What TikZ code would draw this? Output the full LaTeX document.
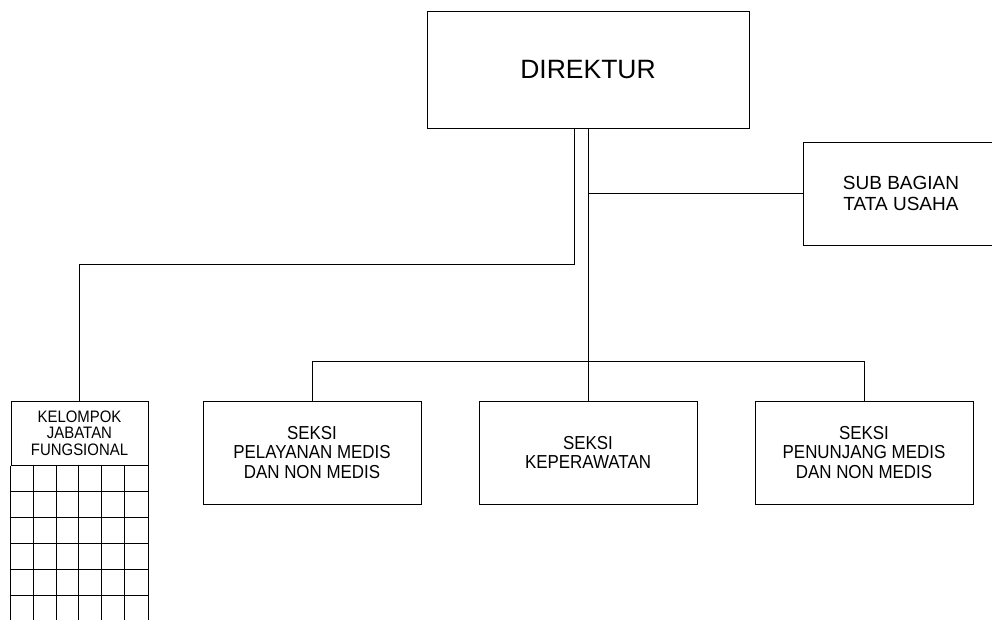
\documentclass[tikz,border=0pt]{standalone}
\usepackage{fontspec}
\setmainfont{Liberation Sans}
\newfontfamily\narrowfont{Liberation Sans}[FakeStretch=0.9]
\usepackage{tikz}
\usetikzlibrary{positioning}
\tikzset{%
  block/.style    = {draw, rectangle, inner sep=0pt, align=center},
  topbox/.style   = {block, minimum width=322pt, minimum height=117pt,
    font=\fontsize{26.5}{30}\selectfont},
  subbox/.style   = {block, minimum width=196pt, minimum height=103pt,
    font=\fontsize{19}{21.7}\selectfont},
  seksi/.style    = {block, minimum width=218pt, minimum height=103pt,
    font=\narrowfont\fontsize{18.8}{19.5}\selectfont},
  fungsi/.style   = {block, minimum width=137pt, minimum height=64pt,
    font=\narrowfont\fontsize{16.6}{16.7}\selectfont}
}

\begin{document}
\begin{tikzpicture}[x=1pt, y=-1pt, line width=1pt]

  \useasboundingbox (0,0) rectangle (992,619);
  \clip (0,0) rectangle (992,619);

  \draw node at (588,69.5) [topbox] (dir) {DIREKTUR};
  \draw node at (901,193.5) [subbox] (tu) {SUB BAGIAN\\TATA USAHA};
  \draw node at (79.5,433) [fungsi] (kjf) {KELOMPOK\\JABATAN\\FUNGSIONAL};
  \draw node at (588,452.5) [seksi] (kep) {SEKSI\\KEPERAWATAN};
  \draw node [seksi, left=57pt of kep] (yan) {SEKSI\\PELAYANAN MEDIS\\DAN NON MEDIS};
  \draw node [seksi, right=57pt of kep] (jang) {SEKSI\\PENUNJANG MEDIS\\DAN NON MEDIS};

  % grid under the functional group
  \draw (kjf.south west) -- ++(0,160);
  \draw (kjf.south east) -- ++(0,160);
  \foreach \i in {1,...,5}
    \draw (kjf.south west) ++(\i*22.83,0) -- ++(0,160);
  \foreach \j in {1,...,6}
    \draw (kjf.south west) ++(0,\j*26) -- ++(137,0);

  \draw ([xshift=-14pt]dir.south) -- ++(0,136) -| (kjf.north);
  \draw (dir.south) -- (kep.north);
  \draw (dir.south |- tu.west) -- (tu.west);
  \draw (yan.north) -- ++(0,-39) -| (jang.north);

\end{tikzpicture}
\end{document}
